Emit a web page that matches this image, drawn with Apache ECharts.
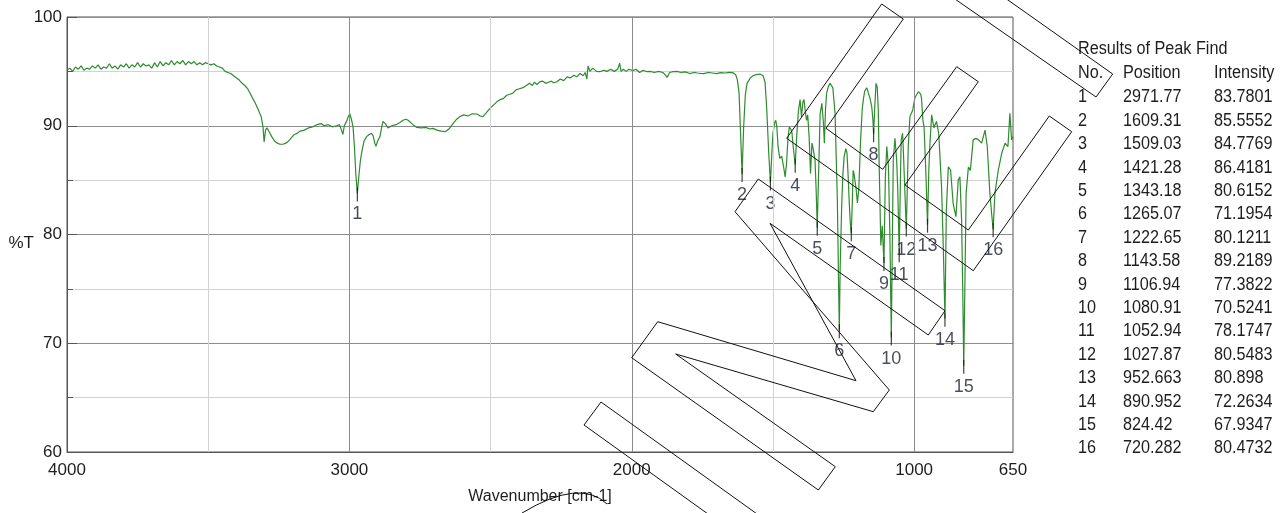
<!DOCTYPE html>
<html>
<head>
<meta charset="utf-8">
<script src="https://cdn.jsdelivr.net/npm/echarts@6/dist/echarts.min.js"></script>
<style>
html,body{margin:0;padding:0;background:#ffffff;}
#chart{width:1287px;height:513px;}
</style>
</head>
<body>
<div id="chart"></div>
<script>
// ---------- data ----------
const wavenumbers = [
4000,3990,3980,3970,3960,3950,3940,3930,3920,3910,3900,3890,3880,3870,3860,3850,3840,3830,3820,3810,
3800,3790,3780,3770,3760,3750,3740,3730,3720,3710,3700,3690,3680,3670,3660,3650,3640,3630,3620,3610,
3600,3590,3580,3570,3560,3550,3540,3530,3520,3510,3500,3490,3480,3470,3460,3450,3440,3430,3420,3410,
3400,3390,3380,3370,3360,3350,3340,3330,3320,3312,3306,3302,3297,3292,3285,3275,3265,3255,3246,3235,
3225,3215,3205,3195,3185,3175,3160,3145,3130,3115,3100,3090,3075,3060,3045,3035,3028,3023,3018,3010,
3003,2998,2993,2987,2982,2977,2971.77,2966,2961,2956,2948,2939,2930,2922,2916,2910,2906,2900,2892,2886,
2881,2873,2863,2850,2835,2821,2810,2800,2792,2785,2775,2761,2745,2730,2715,2704,2690,2675,2661,2648,
2633,2620,2608,2595,2580,2565,2548,2537,2527,2515,2502,2490,2478,2467,2455,2443,2432,2421,2410,2398,
2385,2371,2362,2352,2345,2336,2325,2315,2305,2295,2285,2276,2265,2253,2241,2229,2217,2205,2195,2183,
2172,2165,2159,2155,2148,2138,2125,2113,2100,2088,2075,2062,2050,2043,2038,2030,2020,2010,1996,1985,
1972,1960,1946,1935,1920,1905,1890,1882,1875,1866,1854,1840,1825,1810,1795,1780,1768,1758,1745,1730,
1715,1700,1685,1670,1655,1642,1632,1626,1620,1615,1609.31,1604,1598,1592,1580,1571,1560,1546,1535,1528,
1522,1515,1509.03,1504,1500,1494,1490,1486,1482,1476,1473,1469,1466,1461,1457,1452,1447,1442,1437,1433,
1428,1421.28,1416,1410,1404,1399,1394,1390,1385,1381,1377,1372,1367,1362,1357,1351,1347,1343.18,1339,1333,
1327,1322,1318,1314,1310,1304,1298,1293,1288,1284,1280,1276,1272,1268,1265.07,1262,1257,1253,1248,1242,
1238,1234,1230,1226,1222.65,1219,1216,1213,1210,1206,1201,1196,1190,1184,1180,1175,1168,1162,1156,1150,
1146,1143.58,1140,1135,1131,1127,1124,1118,1113,1106.94,1102,1097,1091,1086,1080.91,1077,1074,1068,1062,1058,
1052.94,1049,1046,1041,1038,1033,1027.87,1024,1021,1015,1005,997,985,977,974,969,965,959,952.663,948,
944,938,930,921,913,903,897,890.952,886,879,871,862,852,844,838,832,828,824.42,820,816,
808,801,791,781,772,761,749,741,732,726,720.282,714,702,690,678,668,661,655,650
];
const transmittance = [
95.1,95.3,95.0,95.4,95.2,95.5,95.1,95.3,95.2,95.5,95.3,95.6,95.2,95.4,95.3,95.7,95.3,95.5,95.2,95.6,
95.4,95.7,95.3,95.6,95.4,95.8,95.4,95.7,95.5,95.6,95.3,95.8,95.4,95.9,95.5,95.8,95.6,96.0,95.6,95.9,
95.7,96.0,95.6,95.9,95.7,95.9,95.6,95.8,95.6,95.8,95.7,95.6,95.7,95.5,95.4,95.3,95.0,94.9,94.8,94.6,
94.4,94.2,93.9,93.7,93.4,92.9,92.4,91.9,91.3,90.8,89.9,88.5,89.6,89.8,89.5,89.0,88.6,88.4,88.3,88.3,
88.4,88.6,88.9,89.2,89.3,89.5,89.6,89.8,89.9,90.1,90.2,90.0,90.1,89.9,90.0,90.1,89.6,89.2,90.0,90.4,
90.9,91.1,90.6,89.9,88.0,85.5,83.7801,85.5,86.8,87.6,88.6,89.0,89.2,89.3,89.1,88.4,88.1,88.6,89.0,89.8,
90.4,90.2,89.8,90.0,90.1,90.3,90.5,90.6,90.5,90.4,90.1,89.85,89.8,89.85,89.7,89.76,89.6,89.5,89.45,89.7,
90.2,90.6,90.85,91.0,90.9,91.1,91.08,90.9,90.84,91.2,91.6,91.9,92.2,92.4,92.5,92.8,92.9,93.0,93.3,93.4,
93.5,93.75,93.9,93.7,94.0,93.8,94.05,94.1,93.9,94.0,94.1,93.95,94.05,94.3,94.15,94.5,94.4,94.65,94.5,94.8,
94.6,94.9,94.3,95.5,95.0,95.3,95.0,94.97,95.1,95.0,95.2,95.0,95.2,95.75,95.0,95.2,95.0,95.2,95.07,95.2,
94.9,95.1,94.97,95.0,94.9,95.0,94.9,94.7,94.45,94.9,94.97,95.0,94.9,94.95,94.8,94.9,94.85,94.82,94.8,94.9,
94.85,94.8,94.88,94.85,94.9,94.88,94.7,94.2,93.0,89.5,85.5552,89.8,92.8,93.9,94.4,94.6,94.7,94.75,94.6,94.0,
91.5,87.5,84.7769,87.5,89.3,90.3,90.5,89.8,88.1,87.0,86.85,87.2,87.1,86.0,85.3,86.5,88.8,89.9,89.7,89.4,
88.0,86.4181,89.0,91.3,92.4,90.8,92.2,92.4,91.2,90.5,91.0,89.0,85.6,88.4,87.8,86.8,84.0,80.6152,85.0,91.1,
92.06,90.5,88.4,91.5,93.0,93.6,93.9,93.8,93.5,92.3,91.1,87.0,83.2,76.0,71.1954,77.0,82.25,85.3,87.15,87.9,
87.5,85.5,83.0,81.0,80.1211,83.0,85.9,85.6,85.0,84.3,82.9,84.2,88.5,91.5,92.4,93.2,93.5,93.45,92.5,91.7,
90.5,89.2189,91.5,93.9,93.6,91.45,86.5,79.0,80.8,77.3822,85.3,88.1,86.2,80.0,70.5241,80.0,86.85,88.84,86.85,84.0,
78.1747,84.5,88.7,89.3,87.5,84.0,80.5483,84.5,88.07,90.84,91.45,92.6,93.13,92.9,92.5,90.5,89.9,86.0,80.898,86.0,
88.4,91.0,89.8,90.4,89.3,84.4,79.0,72.2634,82.25,86.23,85.93,82.87,81.64,85.0,85.3,81.3,75.0,67.9347,76.0,83.8,
86.2,85.9,88.7,88.84,88.7,88.4,89.6,88.07,83.8,82.0,80.4732,83.8,85.93,87.47,88.4,88.07,91.14,88.7,89.0
];

const peakNo = [1,2,3,4,5,6,7,8,9,10,11,12,13,14,15,16];
const peakPosition = [2971.77,1609.31,1509.03,1421.28,1343.18,1265.07,1222.65,1143.58,1106.94,1080.91,1052.94,1027.87,952.663,890.952,824.42,720.282];
const peakIntensity = [83.7801,85.5552,84.7769,86.4181,80.6152,71.1954,80.1211,89.2189,77.3822,70.5241,78.1747,80.5483,80.898,72.2634,67.9347,80.4732];

const xLabelValues = [4000,3000,2000,1000,650];
const xMajorGrid = [3000,2000,1000];
const xMinorGrid = [3500,2500,1500];
const xTickValues = [3500,3000,2500,2000,1500,1000];

const tableTitle = 'Results of Peak Find';
const tableHeaders = ['No.','Position','Intensity'];

// watermark outline (decorative stamp over the chart, in page pixels)
const watermarkShapes = [
  [[735,211.7],[758.3,179],[945,310.7],[928.3,335],[770,223.3],[856,380.7],[657.7,321.7],[631.7,357.7],[818.3,490],[835.3,466.7],[675.7,354],[873.3,411.7],[889.3,390]],
  [[881.7,4],[903.3,19],[826,128.3],[882.7,169.3],[956.7,66.7],[978.3,81.7],[905,185],[968.3,230],[1049.3,116],[1071.7,131.7],[973.3,270.7],[786.7,138.3]],
  [[601,402],[584,425],[800,580],[817,557]],
  [[1112.7,74],[1096,97],[870,-60],[923,-60]]
];

// ---------- chart ----------
const FONT = '"Liberation Sans", Arial, sans-serif';
const TXT = '#1e1e1e';
const chart = echarts.init(document.getElementById('chart'), null, {renderer: 'canvas'});

const spectrum = wavenumbers.map((w, i) => [w, transmittance[i]]);
const peaks = peakPosition.map((p, i) => [p, peakIntensity[i]]);

const gridLines = [];
xMajorGrid.forEach(v => gridLines.push({xAxis: v, lineStyle: {color: '#8c8c8c', width: 1, type: 'solid'}}));
xMinorGrid.forEach(v => gridLines.push({xAxis: v, lineStyle: {color: '#d2d2d2', width: 1, type: 'solid'}}));

const graphics = [];
const tx = [1078, 1123, 1214];
graphics.push({type: 'text', x: tx[0], y: 49, scaleX: 0.9, z: 50,
  style: {text: tableTitle, font: '18px ' + FONT, fill: TXT, textVerticalAlign: 'middle'}});
tableHeaders.forEach((h, j) => graphics.push({type: 'text', x: tx[j], y: 73, scaleX: 0.9, z: 50,
  style: {text: h, font: '18px ' + FONT, fill: TXT, textVerticalAlign: 'middle'}}));
peakNo.forEach((n, i) => {
  const y = 97.5 + i * 23.4;
  [String(n), String(peakPosition[i]), String(peakIntensity[i])].forEach((t, j) => {
    graphics.push({type: 'text', x: tx[j], y: y, scaleX: 0.9, z: 50,
      style: {text: t, font: '18px ' + FONT, fill: TXT, textVerticalAlign: 'middle'}});
  });
});
watermarkShapes.forEach(pts => graphics.push({type: 'polygon', z: 100, silent: true,
  shape: {points: pts}, style: {fill: 'none', stroke: '#111', lineWidth: 1}}));
graphics.push({type: 'bezierCurve', z: 100, silent: true,
  shape: {x1: 522, y1: 513, cpx1: 580, cpy1: 478, x2: 607, y2: 504},
  style: {fill: 'none', stroke: '#111', lineWidth: 1}});

const option = {
  animation: false,
  backgroundColor: '#ffffff',
  grid: {left: 67, right: 274, top: 17, bottom: 61, show: true, borderColor: '#555', borderWidth: 1, backgroundColor: 'transparent'},
  xAxis: {
    type: 'value', inverse: true, min: 650, max: 4000,
    name: 'Wavenumber [cm-1]', nameLocation: 'middle', nameGap: 37, nameMoveOverlap: false,
    nameTextStyle: {fontFamily: FONT, fontSize: 16, color: TXT},
    axisLine: {show: true, lineStyle: {color: '#555', width: 1}},
    axisTick: {show: true, inside: true, length: 9, customValues: xTickValues, lineStyle: {color: '#555'}},
    axisLabel: {customValues: xLabelValues, formatter: v => String(v), fontFamily: FONT, fontSize: 17, color: TXT, margin: 10},
    splitLine: {show: false}
  },
  yAxis: {
    type: 'value', min: 60, max: 100, interval: 10,
    name: '%T', nameLocation: 'middle', nameRotate: 0, nameGap: 33, nameMoveOverlap: false,
    nameTextStyle: {fontFamily: FONT, fontSize: 17, color: TXT, verticalAlign: 'top', align: 'right'},
    axisLine: {show: true, onZero: false, lineStyle: {color: '#555', width: 1}},
    axisTick: {show: true, inside: true, length: 10, lineStyle: {color: '#555'}},
    minorTick: {show: true, splitNumber: 2, length: 6, lineStyle: {color: '#555'}},
    axisLabel: {fontFamily: FONT, fontSize: 17, color: TXT, margin: 5},
    splitLine: {show: true, lineStyle: {color: '#8c8c8c', width: 1}},
    minorSplitLine: {show: true, lineStyle: {color: '#d2d2d2', width: 1}}
  },
  series: [
    {
      name: 'grid', type: 'line', data: [], z: 1, silent: true,
      markLine: {silent: true, symbol: ['none', 'none'], label: {show: false}, animation: false, data: gridLines}
    },
    {
      name: 'spectrum', type: 'line', data: spectrum, z: 3, showSymbol: false, silent: true,
      lineStyle: {color: '#2e8b2e', width: 1.2}
    },
    {
      name: 'peaks', type: 'scatter', data: peaks, z: 4, silent: true,
      symbol: 'rect', symbolSize: [1.2, 14], symbolOffset: [0, 1],
      itemStyle: {color: '#111'},
      label: {show: true, position: 'bottom', distance: 4, fontFamily: FONT, fontSize: 18, color: '#1a1f33',
        formatter: p => String(peakNo[p.dataIndex])}
    }
  ],
  graphic: graphics
};
chart.setOption(option);
</script>
</body>
</html>
